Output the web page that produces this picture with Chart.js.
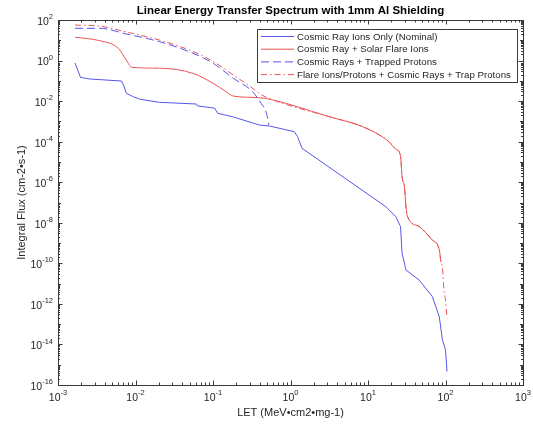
<!DOCTYPE html>
<html lang="en">
<head>
<meta charset="UTF-8">
<title>LET Spectrum</title>
<script src="https://cdn.jsdelivr.net/npm/chart.js"></script>
<style>
  body { margin: 0; background: #fff; }
  #wrap { width: 533px; height: 425px; }
</style>
</head>
<body>
<div id="wrap"><canvas id="letChart" width="533" height="425"></canvas></div>
<script>
// values (LET in MeV·cm2·mg-1, flux in cm-2·s-1)
const seriesNames = [
  "Cosmic Ray Ions Only (Nominal)",
  "Cosmic Ray + Solar Flare Ions",
  "Cosmic Rays + Trapped Protons",
  "Flare Ions/Protons + Cosmic Rays + Trap Protons"
];

const nominalLet  = [1.66e-3, 1.95e-3, 2.57e-3, 6.6e-3, 7.1e-3, 7.6e-3, 9.5e-3, 0.0115, 0.0204, 0.061, 0.063, 0.105, 0.115, 0.178, 0.398, 0.537, 1.12, 1.23, 1.41, 17.0, 22.9, 26.3, 27.5, 30.9, 45.7, 67.6, 83.2, 91.2, 100, 104.7];
const nominalFlux = [0.76, 0.148, 0.123, 0.098, 0.056, 0.0245, 0.016, 0.0123, 8.7e-3, 7.2e-3, 5.8e-3, 4.5e-3, 2.5e-3, 1.7e-3, 6.6e-4, 5.9e-4, 3.1e-4, 1.8e-4, 4.7e-5, 6.2e-8, 2.0e-8, 6.5e-9, 3.2e-10, 4.7e-11, 1.5e-11, 2.3e-12, 2.3e-13, 1.7e-14, 5.4e-15, 4.6e-16];

const flareLet  = [1.66e-3, 3.47e-3, 6.0e-3, 7.6e-3, 8.9e-3, 0.0204, 0.055, 0.10, 0.148, 0.182, 0.398, 0.589, 3.16, 8.5, 18.6, 22.9, 26.3, 27.5, 29.5, 30.9, 32.4, 45.7, 67.6, 83.2, 87.1];
const flareFlux = [14.1, 9.5, 4.0, 1.07, 0.47, 0.42, 0.234, 0.076, 0.029, 0.0178, 0.0148, 0.0115, 1.7e-3, 5.5e-4, 1.0e-4, 4.2e-5, 2.0e-5, 1.9e-6, 6.0e-7, 6.2e-8, 2.0e-8, 6.5e-9, 1.4e-9, 4.6e-10, 1.2e-10];

const trappedLet  = [1.66e-3, 3.47e-3, 7.6e-3, 0.0204, 0.055, 0.10, 0.182, 0.324, 0.417, 0.49, 0.525];
const trappedFlux = [39, 39, 20.4, 8.5, 2.3, 0.74, 0.135, 0.029, 7.8e-3, 2.5e-3, 6.6e-4];

const allLet  = [1.66e-3, 3.47e-3, 7.6e-3, 0.0204, 0.055, 0.10, 0.182, 0.295, 0.427, 0.589, 3.16, 8.5, 18.6, 22.9, 26.3, 27.5, 29.5, 30.9, 32.4, 45.7, 67.6, 83.2, 87.1, 91.2, 95.5, 100, 104.7];
const allFlux = [56, 50, 25.7, 10.2, 2.8, 0.91, 0.195, 0.056, 0.020, 0.0115, 1.7e-3, 5.5e-4, 1.0e-4, 4.2e-5, 2.0e-5, 1.9e-6, 6.0e-7, 6.2e-8, 2.0e-8, 6.5e-9, 1.4e-9, 4.6e-10, 1.2e-10, 6.8e-11, 4.9e-12, 1.55e-12, 1.95e-13];

const xTicks = [1e-3, 1e-2, 1e-1, 1e0, 1e1, 1e2, 1e3];
const yTicks = [1e2, 1e0, 1e-2, 1e-4, 1e-6, 1e-8, 1e-10, 1e-12, 1e-14, 1e-16];

const FONT = '"Liberation Sans", Arial, sans-serif';
const BLUE = 'rgb(85, 85, 235)';
const RED = 'rgb(235, 85, 85)';
const AXIS = '#3a3a3a';

Chart.defaults.font.family = FONT;
Chart.defaults.color = '#262626';

function pts(xs, ys) {
  return xs.map((x, i) => ({ x: x, y: ys[i] }));
}

function expLabel(ctx, v, x, y, align) {
  const p = Math.round(Math.log10(v));
  ctx.font = '10.5px ' + FONT;
  const wBase = ctx.measureText('10').width;
  ctx.font = '7.5px ' + FONT;
  const wExp = ctx.measureText(String(p)).width;
  const w = wBase + wExp;
  const x0 = align === 'right' ? x - w : x - w / 2;
  ctx.textAlign = 'left';
  ctx.textBaseline = 'middle';
  ctx.font = '10.5px ' + FONT;
  ctx.fillText('10', x0, y + 2);
  ctx.font = '7.5px ' + FONT;
  ctx.fillText(String(p), x0 + wBase, y - 3);
}

// MATLAB-like box with inward ticks on all four sides
const boxAxes = {
  id: 'boxAxes',
  afterDraw(chart) {
    const { ctx, chartArea: a, scales: { x, y } } = chart;
    ctx.save();
    ctx.strokeStyle = AXIS;
    ctx.lineWidth = 1;
    ctx.strokeRect(Math.round(a.left) + 0.5, Math.round(a.top) + 0.5,
      Math.round(a.right - a.left), Math.round(a.bottom - a.top));

    ctx.beginPath();
    for (let d = -3; d < 3; d++) {
      for (let m = 2; m <= 9; m++) {
        const px = Math.round(x.getPixelForValue(m * Math.pow(10, d))) + 0.5;
        ctx.moveTo(px, a.bottom); ctx.lineTo(px, a.bottom - 2.5);
        ctx.moveTo(px, a.top); ctx.lineTo(px, a.top + 2.5);
      }
    }
    xTicks.forEach(v => {
      const px = Math.round(x.getPixelForValue(v)) + 0.5;
      ctx.moveTo(px, a.bottom); ctx.lineTo(px, a.bottom - 4.5);
      ctx.moveTo(px, a.top); ctx.lineTo(px, a.top + 4.5);
    });
    for (let d = -16; d < 2; d++) {
      for (let m = 2; m <= 9; m++) {
        const py = Math.round(y.getPixelForValue(m * Math.pow(10, d))) + 0.5;
        ctx.moveTo(a.left, py); ctx.lineTo(a.left + 2, py);
        ctx.moveTo(a.right, py); ctx.lineTo(a.right - 2, py);
      }
      if (d % 2 !== 0) {
        const py = Math.round(y.getPixelForValue(Math.pow(10, d))) + 0.5;
        ctx.moveTo(a.left, py); ctx.lineTo(a.left + 3, py);
        ctx.moveTo(a.right, py); ctx.lineTo(a.right - 3, py);
      }
    }
    yTicks.forEach(v => {
      const py = Math.round(y.getPixelForValue(v)) + 0.5;
      ctx.moveTo(a.left, py); ctx.lineTo(a.left + 4.5, py);
      ctx.moveTo(a.right, py); ctx.lineTo(a.right - 4.5, py);
    });
    ctx.stroke();

    ctx.fillStyle = '#262626';
    xTicks.forEach(v => expLabel(ctx, v, x.getPixelForValue(v), a.bottom + 11, 'center'));
    yTicks.forEach(v => expLabel(ctx, v, a.left - 5, y.getPixelForValue(v), 'right'));
    ctx.restore();
  }
};

// legend drawn inside the axes, upper right
const innerLegend = {
  id: 'innerLegend',
  afterDraw(chart) {
    const { ctx, chartArea: a } = chart;
    const sets = chart.data.datasets;
    ctx.save();
    ctx.font = '9.7px ' + FONT;
    const textW = Math.max(...sets.map(d => ctx.measureText(d.label).width));
    const rowH = 12.7;
    const w = 4 + 33 + 3 + textW + 6;
    const h = 7 + rowH * (sets.length - 1) + 8;
    const right = Math.round(a.right - 6), top = Math.round(a.top + 9);
    const left = Math.round(right - w);
    ctx.fillStyle = '#fff';
    ctx.fillRect(left, top, w, h);
    ctx.strokeStyle = AXIS;
    ctx.lineWidth = 1;
    ctx.strokeRect(left + 0.5, top + 0.5, Math.round(w), Math.round(h));
    sets.forEach((d, i) => {
      const ry = top + 7 + i * rowH;
      ctx.strokeStyle = d.borderColor;
      ctx.setLineDash(d.borderDash || []);
      ctx.beginPath();
      ctx.moveTo(left + 4, ry + 0.5);
      ctx.lineTo(left + 37, ry + 0.5);
      ctx.stroke();
      ctx.setLineDash([]);
      ctx.fillStyle = '#262626';
      ctx.textAlign = 'left';
      ctx.textBaseline = 'middle';
      ctx.fillText(d.label, left + 40, ry + 1);
    });
    ctx.restore();
  }
};

const smooth = { borderWidth: 1, pointRadius: 0, fill: false, cubicInterpolationMode: 'monotone' };
const straight = { borderWidth: 1, pointRadius: 0, fill: false, tension: 0 };

new Chart(document.getElementById('letChart'), {
  type: 'line',
  data: {
    datasets: [
      Object.assign({ label: seriesNames[0], data: pts(nominalLet, nominalFlux), borderColor: BLUE }, straight),
      Object.assign({ label: seriesNames[1], data: pts(flareLet, flareFlux), borderColor: RED }, smooth),
      Object.assign({ label: seriesNames[2], data: pts(trappedLet, trappedFlux), borderColor: BLUE, borderDash: [8, 4] }, smooth),
      Object.assign({ label: seriesNames[3], data: pts(allLet, allFlux), borderColor: RED, borderDash: [6, 3, 1.5, 3] }, smooth)
    ]
  },
  options: {
    responsive: false,
    animation: false,
    devicePixelRatio: 1,
    layout: { padding: { left: 0, right: 10, top: 0, bottom: 0 } },
    plugins: {
      legend: { display: false },
      tooltip: { enabled: false },
      title: {
        display: true,
        text: 'Linear Energy Transfer Spectrum with 1mm Al Shielding',
        fullSize: false,
        font: { size: 11.5, weight: 'bold' },
        color: '#000',
        padding: { top: 4, bottom: 2.2 }
      }
    },
    scales: {
      x: {
        type: 'logarithmic',
        min: 1e-3, max: 1e3,
        grid: { display: false },
        border: { display: false },
        ticks: { display: false },
        title: { display: true, text: 'LET (MeV•cm2•mg-1)', font: { size: 11 }, padding: { top: 0, bottom: 5 } },
        afterFit: s => { s.height = 40; }
      },
      y: {
        type: 'logarithmic',
        min: 1e-16, max: 1e2,
        grid: { display: false },
        border: { display: false },
        ticks: { display: false },
        title: { display: true, text: 'Integral Flux (cm-2•s-1)', font: { size: 11 }, padding: { top: 15, bottom: 0 } },
        afterFit: s => { s.width = 58; }
      }
    }
  },
  plugins: [boxAxes, innerLegend]
});
</script>
</body>
</html>
